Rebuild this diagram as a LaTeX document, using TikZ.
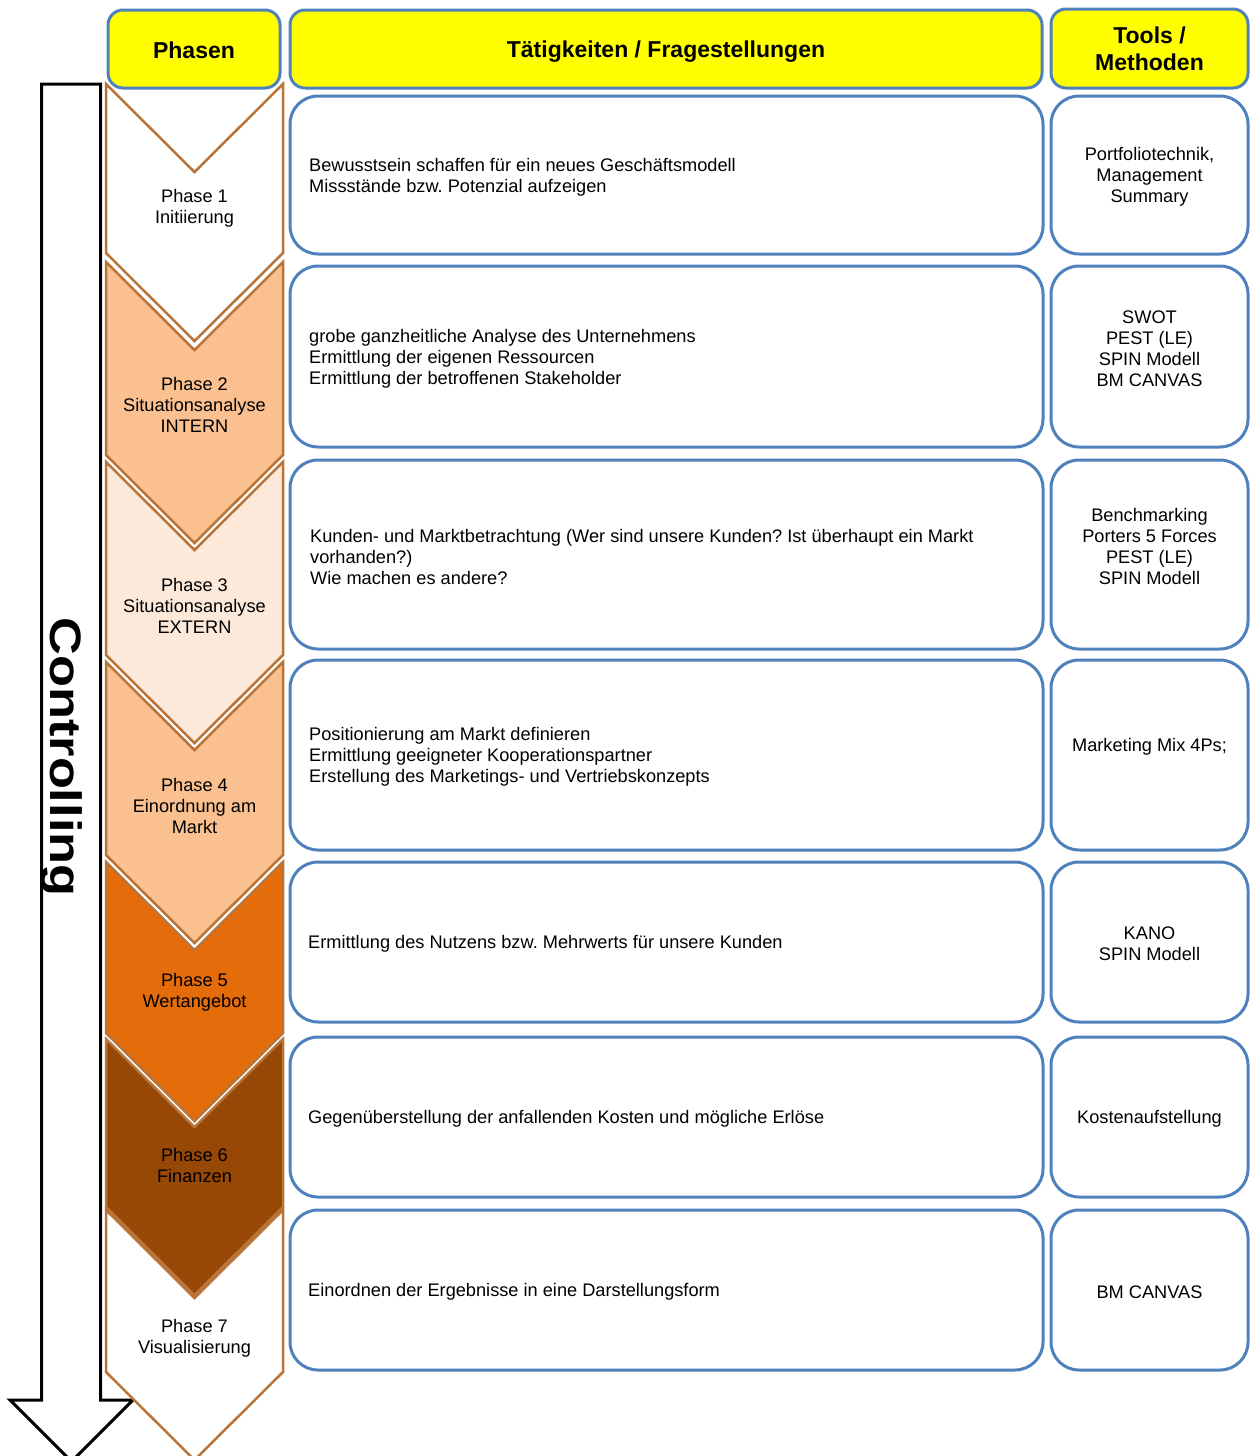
\documentclass[tikz,border=0pt]{standalone}
\usepackage{fontspec}
\setmainfont{Liberation Sans}
\frenchspacing
\definecolor{hdryellow}{RGB}{255,255,0}
\definecolor{boxblue}{RGB}{79,129,189}
\definecolor{chevbrown}{RGB}{185,116,58}
\definecolor{peach}{RGB}{250,192,143}
\definecolor{paleorange}{RGB}{253,233,217}
\definecolor{orange5}{RGB}{228,108,10}
\definecolor{brown6}{RGB}{152,72,6}
\begin{document}
\begin{tikzpicture}[x=1pt,y=-1pt,
  hdr/.style={draw=boxblue, line width=3pt, fill=hdryellow, rounded corners=15pt,
    inner sep=0pt, outer sep=0pt},
  hdrtext/.style={inner sep=0pt, align=center,
    font=\fontsize{23}{27}\selectfont\bfseries},
  cbox/.style={draw=boxblue, line width=3pt, fill=white, rounded corners=28pt,
    inner sep=0pt, outer sep=0pt},
  body/.style={inner sep=0pt, yshift=-2pt, font=\fontsize{18.2}{21}\selectfont},
  mtext/.style={body, anchor=west, align=left},
  ttext/.style={body, align=center},
  chev/.style={draw=chevbrown, line width=2.5pt, line join=miter},
  ptext/.style={body, align=center}]
\useasboundingbox (0,0) rectangle (1250,1456);

% Controlling arrow
\draw[line width=3pt, fill=white, line join=miter]
  (41.5,84) -- (100.5,84) -- (100.5,1400) -- (133,1400) -- (71.5,1461.5)
  -- (10,1400) -- (41.5,1400) -- cycle;
\node[rotate=-90, inner sep=0pt, font=\fontsize{44}{44}\selectfont\bfseries]
  (ctrl) at (62,757) {\scalebox{1.19}[1]{Controlling}};

% phase chevrons: top corner y / bottom corner y / fill
\foreach \t/\b/\c in {84/253/white, 262/455/peach, 462/655/paleorange,
    662/855/peach, 862/1033/orange5, 1039/1207/brown6, 1210/1372/white}{
  \draw[chev, fill=\c] (106,\t) -- (194.5,{\t+88}) -- (283,\t) -- (283,\b)
    -- (194.5,{\b+88}) -- (106,\b) -- cycle;
}
\node[ptext] (p1) at (194.5,206) {Phase 1\\Initiierung};
\node[ptext] (p2) at (194.5,403) {Phase 2\\Situationsanalyse\\INTERN};
\node[ptext] (p3) at (194.5,604) {Phase 3\\Situationsanalyse\\EXTERN};
\node[ptext] (p4) at (194.5,804) {Phase 4\\Einordnung am\\Markt};
\node[ptext] (p5) at (194.5,990) {Phase 5\\Wertangebot};
\node[ptext] (p6) at (194.5,1163) {Phase 6\\Finanzen};
\node[ptext] (p7) at (194.5,1336) {Phase 7\\Visualisierung};

% column headers
\node[hdr, minimum width=172pt, minimum height=78pt] (hph) at (194,49) {};
\node[hdr, minimum width=752pt, minimum height=78pt] (hta) at (666,49) {};
\node[hdr, minimum width=197pt, minimum height=79pt] (hto) at (1149.5,48.5) {};
\node[hdrtext] (lph) at ([yshift=-1pt]hph.center) {Phasen};
\node[hdrtext] (lta) at ([yshift=-3pt]hta.center) {Tätigkeiten / Fragestellungen};
\node[hdrtext] (lto) at (hto.center) {Tools /\\Methoden};

% activity and tool boxes per row
\foreach \r/\cy/\h in {1/175/158, 2/356.5/181, 3/554.5/189, 4/755/190,
    5/942/160, 6/1117/160, 7/1290/160}{
  \node[cbox, minimum width=753pt, minimum height=\h pt] (m\r) at (666.5,\cy) {};
  \node[cbox, minimum width=197pt, minimum height=\h pt] (t\r) at (1149.5,\cy) {};
}

\node[mtext] (a1) at ([xshift=19pt]m1.west) {Bewusstsein schaffen für ein neues Geschäftsmodell\\Missstände bzw. Potenzial aufzeigen};
\node[mtext] (a2) at ([xshift=19pt]m2.west) {grobe ganzheitliche Analyse des Unternehmens\\Ermittlung der eigenen Ressourcen\\Ermittlung der betroffenen Stakeholder};
\node[mtext] (a3) at ([xshift=20pt]m3.west) {Kunden- und Marktbetrachtung (Wer sind unsere Kunden? Ist überhaupt ein Markt\\vorhanden?)\\Wie machen es andere?};
\node[mtext] (a4) at ([xshift=19pt]m4.west) {Positionierung am Markt definieren\\Ermittlung geeigneter Kooperationspartner\\Erstellung des Marketings- und Vertriebskonzepts};
\node[mtext] (a5) at ([xshift=18pt]m5.west) {Ermittlung des Nutzens bzw. Mehrwerts für unsere Kunden};
\node[mtext] (a6) at ([xshift=18pt]m6.west) {Gegenüberstellung der anfallenden Kosten und mögliche Erlöse};
\node[mtext] (a7) at ([xshift=18pt]m7.west) {Einordnen der Ergebnisse in eine Darstellungsform};

\node[ttext] (w1) at (t1.center) {Portfoliotechnik,\\Management\\Summary};
\node[ttext] (w2) at ([yshift=10pt]t2.center) {SWOT\\PEST (LE)\\SPIN Modell\\BM CANVAS};
\node[ttext] (w3) at ([yshift=10pt]t3.center) {Benchmarking\\Porters 5 Forces\\PEST (LE)\\SPIN Modell};
\node[ttext] (w4) at ([yshift=10pt]t4.center) {Marketing Mix 4Ps;};
\node[ttext] (w5) at (t5.center) {KANO\\SPIN Modell};
\node[ttext] (w6) at (t6.center) {Kostenaufstellung};
\node[ttext] (w7) at (t7.center) {BM CANVAS};
\end{tikzpicture}
\end{document}
